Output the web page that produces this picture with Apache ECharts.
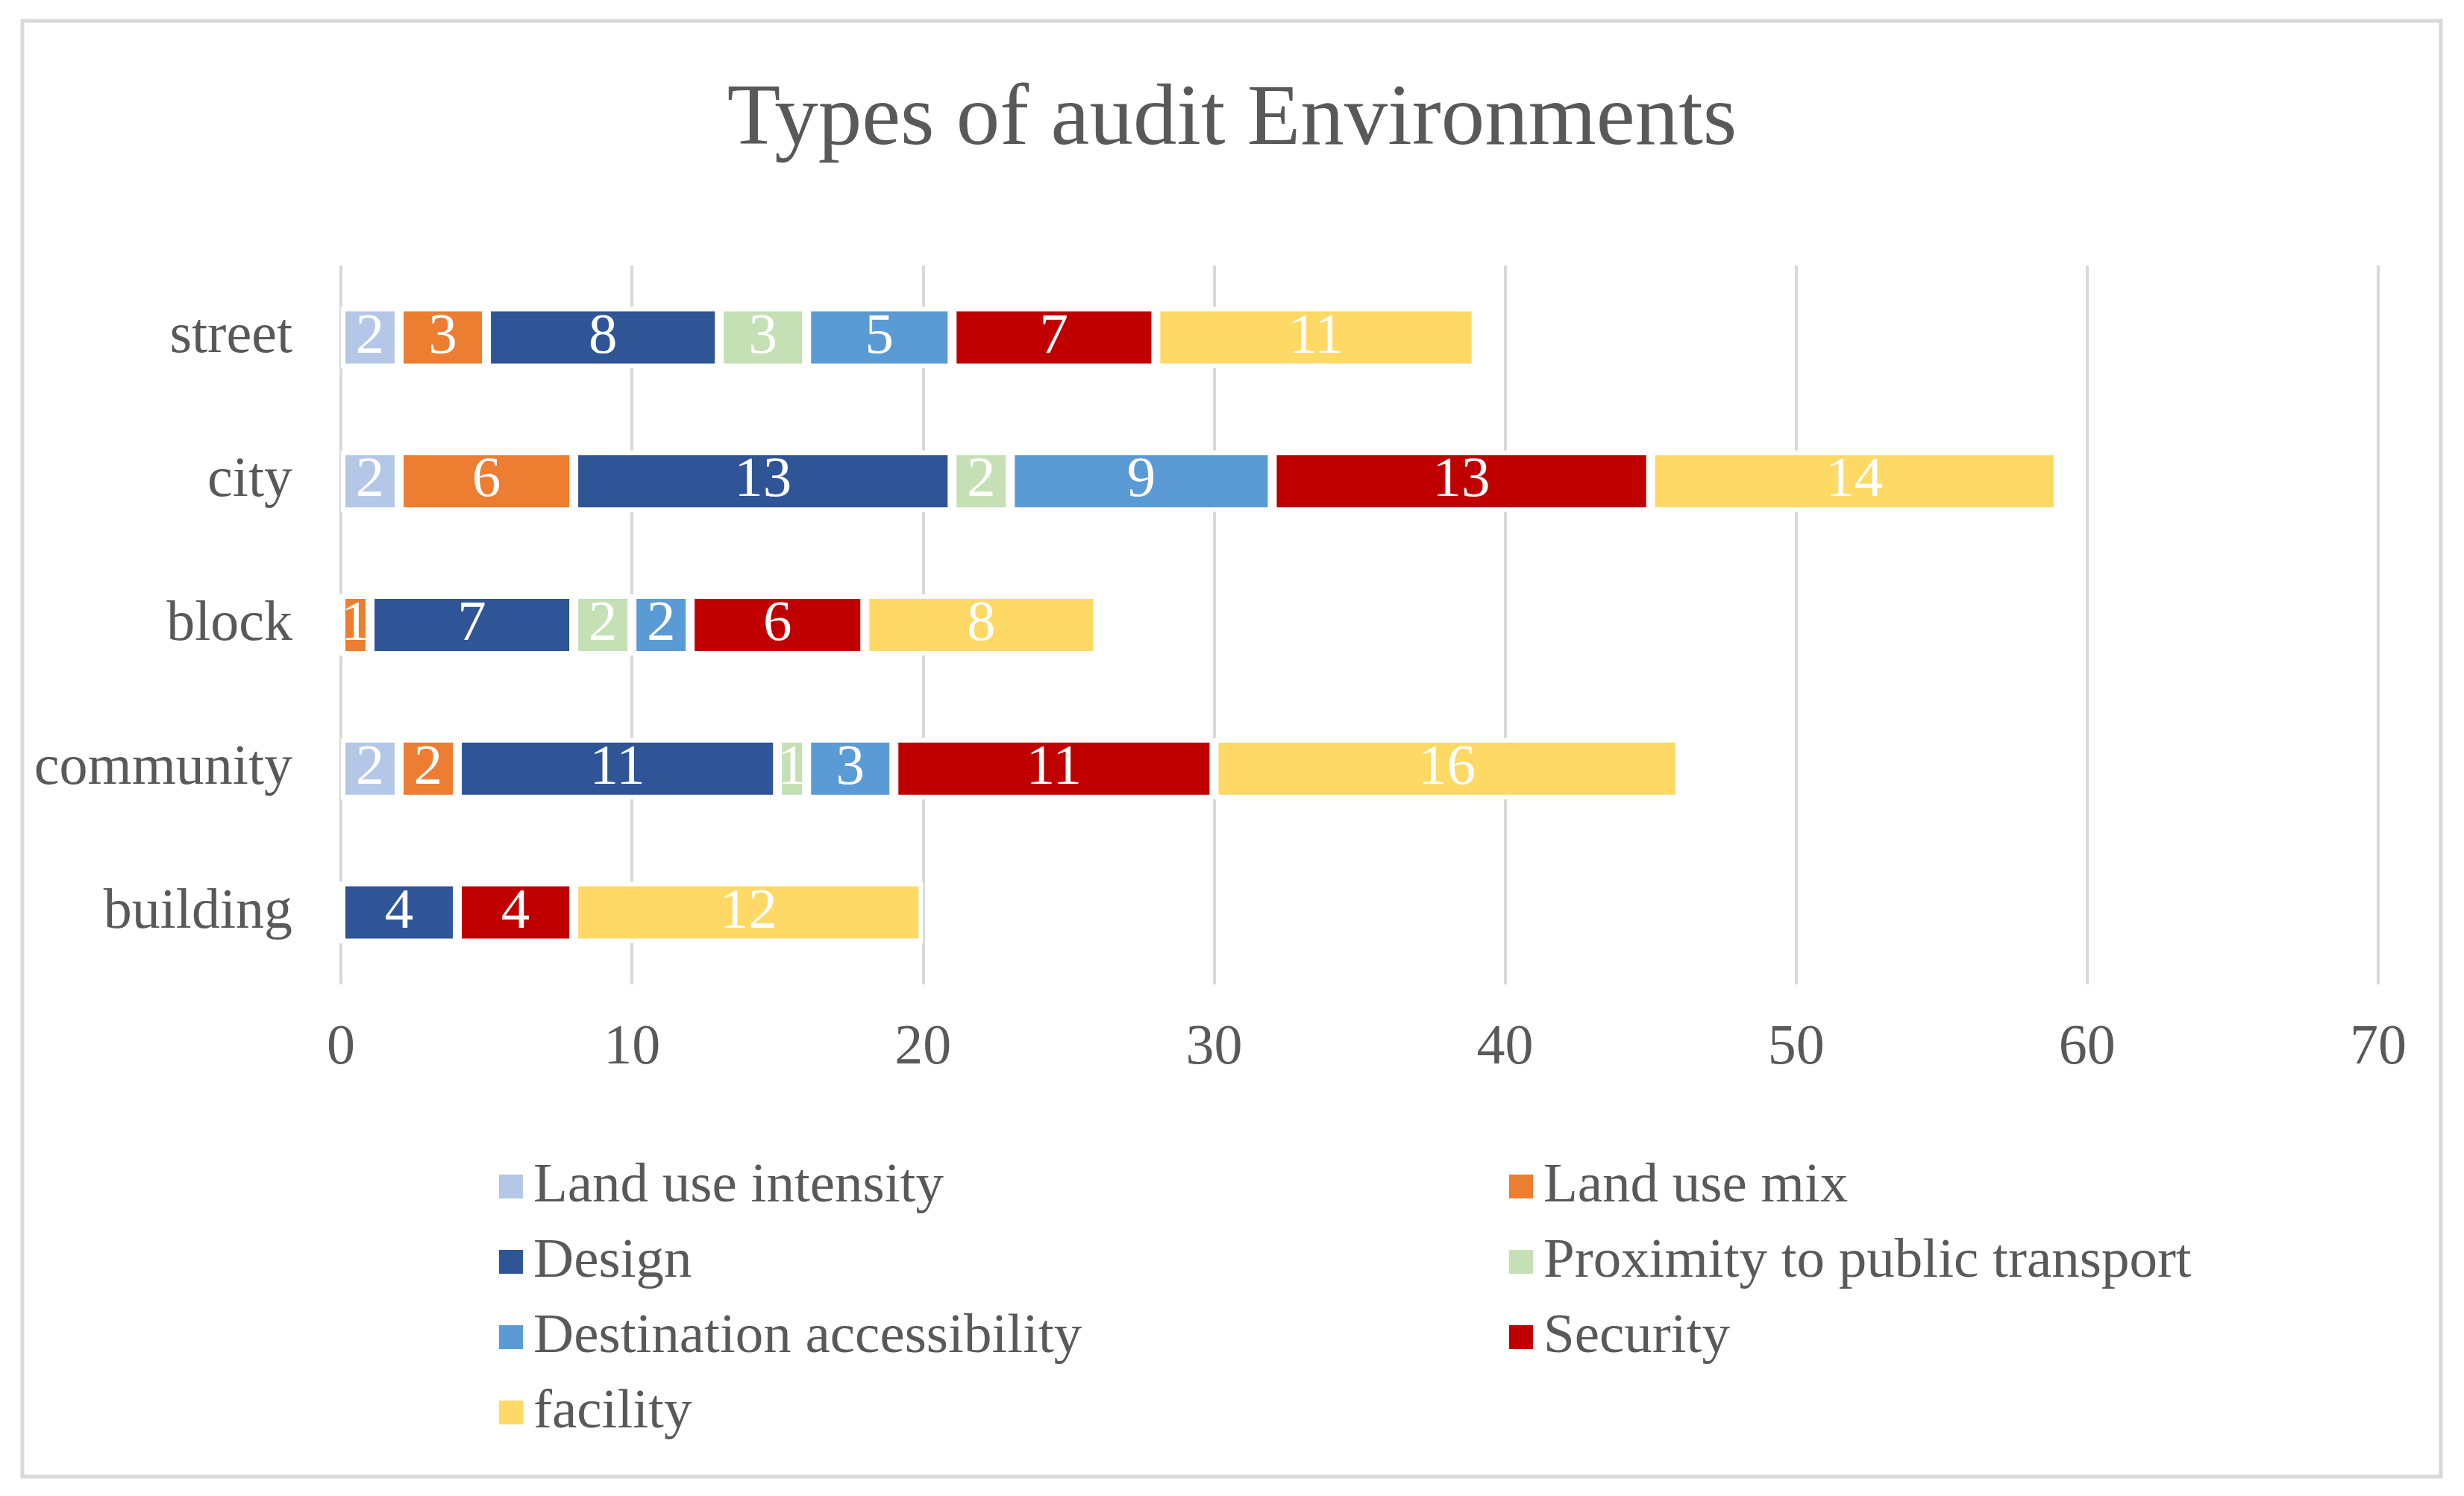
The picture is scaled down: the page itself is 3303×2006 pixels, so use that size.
<!DOCTYPE html>
<html>
<head>
<meta charset="utf-8">
<script src="https://cdn.jsdelivr.net/npm/echarts@6/dist/echarts.min.js"></script>
<style>
  html, body { margin: 0; padding: 0; background: #fff; }
  #chart { width: 3303px; height: 2006px; }
</style>
</head>
<body>
<div id="chart"></div>
<script>
// categories, bottom to top
const categories = ['building', 'community', 'block', 'city', 'street'];

// one array per series, same order as categories
const landUseIntensity = [0, 2, 0, 2, 2];
const landUseMix = [0, 2, 1, 6, 3];
const design = [4, 11, 7, 13, 8];
const proximity = [0, 1, 2, 2, 3];
const destination = [0, 3, 2, 9, 5];
const security = [4, 11, 6, 13, 7];
const facility = [12, 16, 8, 14, 11];

const xTicks = [0, 10, 20, 30, 40, 50, 60, 70];

const seriesNames = ['Land use intensity', 'Land use mix', 'Design', 'Proximity to public transport',
  'Destination accessibility', 'Security', 'facility'];
const seriesData = [landUseIntensity, landUseMix, design, proximity, destination, security, facility];
const colors = ['#b4c7e7', '#ed7d31', '#2f5597', '#c5e0b4', '#5b9bd5', '#c00000', '#ffd966'];

const font = '"Liberation Serif", "Times New Roman", serif';
const gray = '#595959';

let chart = echarts.init(document.getElementById('chart'));

const series = seriesNames.map((name, i) => {
  return {
    name: name,
    type: 'bar',
    stack: 'total',
    barWidth: 82,
    data: seriesData[i],
    itemStyle: { color: colors[i], borderColor: '#fff', borderWidth: 6 },
    label: {
      show: true,
      position: 'inside',
      color: '#fff',
      fontFamily: font,
      fontSize: 77,
      formatter: p => (p.value ? String(p.value) : '')
    }
  };
});

const legendCommon = {
  orient: 'vertical',
  icon: 'rect',
  itemWidth: 34,
  itemHeight: 34,
  itemGap: 21,
  selectedMode: false,
  textStyle: { fontFamily: font, fontSize: 75, color: gray, lineHeight: 80, padding: [0, 0, 0, 8] }
};

let options = {
  animation: false,
  color: colors,
  title: {
    text: 'Types of audit Environments',
    left: 'center',
    top: 99,
    textStyle: { fontFamily: font, fontSize: 117, fontWeight: 'normal', color: gray }
  },
  grid: { left: 457, right: 115, top: 356, bottom: 686, containLabel: false },
  xAxis: {
    type: 'value',
    min: xTicks[0],
    max: xTicks[xTicks.length - 1],
    interval: 10,
    axisLine: { show: false },
    axisTick: { show: false },
    splitLine: { show: true, lineStyle: { color: '#d9d9d9', width: 4 } },
    axisLabel: { fontFamily: font, fontSize: 76, color: gray, margin: 48 }
  },
  yAxis: {
    type: 'category',
    data: categories,
    axisLine: { show: false },
    axisTick: { show: false },
    axisLabel: { fontFamily: font, fontSize: 76, color: gray, margin: 65 }
  },
  legend: [
    Object.assign({}, legendCommon, {
      left: 662, top: 1546,
      data: [seriesNames[0], seriesNames[2], seriesNames[4], seriesNames[6]]
    }),
    Object.assign({}, legendCommon, {
      left: 2016, top: 1546,
      data: [seriesNames[1], seriesNames[3], seriesNames[5]]
    })
  ],
  graphic: [{
    type: 'rect',
    shape: { x: 30, y: 28, width: 3242, height: 1952 },
    style: { fill: null, stroke: '#d9d9d9', lineWidth: 5 },
    silent: true
  }],
  series
};

chart.setOption(options);
</script>
</body>
</html>
